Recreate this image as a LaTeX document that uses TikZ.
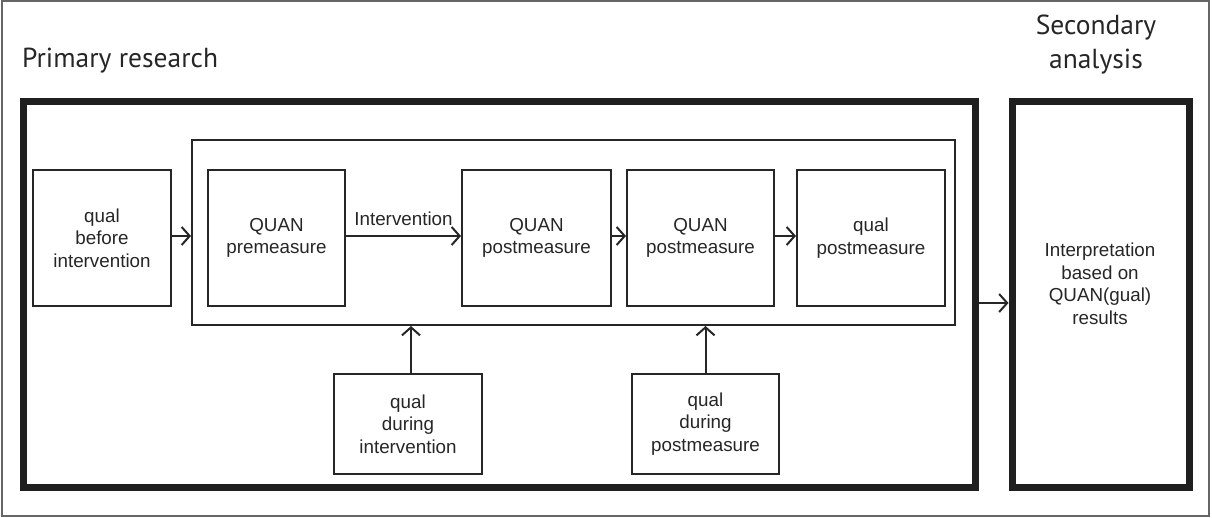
\documentclass[tikz,border=0pt]{standalone}
\usepackage{fontspec}
\setmainfont{Liberation Sans}
\newfontfamily\headfont{PT Sans}
\usetikzlibrary{arrows.meta}
\begin{document}
\begin{tikzpicture}[x=1pt,y=-1pt,
  boxfont/.style={font=\fontsize{18.8}{22.5}\selectfont},
  thinbox/.style={draw=black!85,line width=2pt,inner sep=0pt,outer sep=0.5\pgflinewidth,boxfont,align=center,text=black!85},
  thickbox/.style={draw=black!88,line width=7pt,inner sep=0pt,boxfont,align=center,text=black!85},
  headtext/.style={font=\headfont\fontsize{27.5}{34}\selectfont,text=black!85,inner sep=0pt,align=center},
  conn/.style={draw=black!85,line width=2pt,-{Straight Barb[length=8pt,width=18pt,line width=2pt]}}
]
\useasboundingbox (0,0) rectangle (1212,518);
\draw[black!60,line width=1.5pt] (2,1) rectangle (1209,516);

\node[headtext,anchor=base west] (plabel) at (22,68) {Primary research};
\node[headtext] (slabel) at (1096,45) {Secondary\\analysis};

\node[thickbox,minimum width=952pt,minimum height=385pt] (prim) at (499,294.5) {};
\node[thickbox,minimum width=177.5pt,minimum height=385pt] (sec) at (1100.75,294.5) {};
\node[boxfont,align=center,text=black!85,inner sep=0pt] (sectext) at (1100,284) {Interpretation\\based on\\QUAN(gual)\\results};

\node[thinbox,minimum width=763pt,minimum height=185pt] (cont) at (573.5,232.5) {};

\node[thinbox,minimum width=138pt,minimum height=136pt] (qb) at (102,238) {qual\\before\\intervention};
\node[thinbox,minimum width=137pt,minimum height=136pt] (pre) at (276.5,238) {QUAN\\premeasure};
\node[thinbox,minimum width=149pt,minimum height=136pt] (post1) at (536.5,238) {QUAN\\postmeasure};
\node[thinbox,minimum width=147pt,minimum height=136pt] (post2) at (700.5,238) {QUAN\\postmeasure};
\node[thinbox,minimum width=148pt,minimum height=136pt] (qp) at (871,238) {qual\\postmeasure};

\node[thinbox,minimum width=148pt,minimum height=100pt] (qdi) at (408,424) {qual\\during\\intervention};
\node[thinbox,minimum width=147pt,minimum height=100pt] (qdp) at (705.5,424) {qual\\during\\postmeasure};

\draw[conn] ([yshift=2pt]qb.east) -- ([yshift=2pt]qb.east -| cont.west);
\draw[conn] ([yshift=2pt]pre.east) -- node[above=9pt,boxfont,text=black!85,inner sep=0pt] {Intervention} ([yshift=2pt]post1.west);
\draw[conn] ([yshift=2pt]post1.east) -- ([yshift=2pt]post2.west);
\draw[conn] ([yshift=2pt]post2.east) -- ([yshift=2pt]qp.west);
\draw[conn] ([yshift=-8.5pt]prim.east) -- ([yshift=-8.5pt]sec.west);
\draw[conn] ([xshift=3pt]qdi.north) -- ([xshift=3pt]qdi.north |- cont.south);
\draw[conn] (qdp.north) -- (qdp.north |- cont.south);
\end{tikzpicture}
\end{document}
